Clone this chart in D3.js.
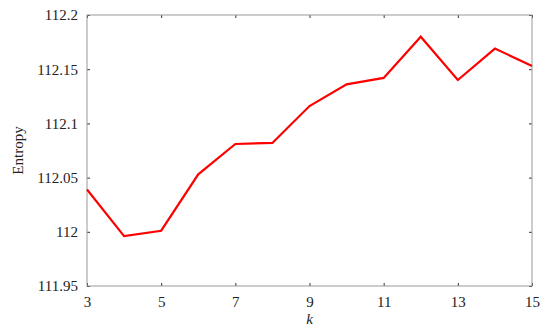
<!DOCTYPE html>
<meta charset="utf-8">
<style>
  body { margin: 0; background: #fff; }
  svg text { font-family: "Liberation Serif", "DejaVu Serif", serif; font-size: 15px; fill: #222; }
  .frame { fill: none; stroke: #999; stroke-width: 1px; }
  .tick line { stroke: #333; }
</style>
<body>
<script src="https://d3js.org/d3.v7.min.js"></script>
<script>
  var kValues = [3, 4, 5, 6, 7, 8, 9, 10, 11, 12, 13, 14, 15];
  var entropy = [112.039, 111.996, 112.001, 112.053, 112.081, 112.082, 112.116,
                 112.136, 112.142, 112.180, 112.140, 112.169, 112.153];
  var xTicks = [3, 5, 7, 9, 11, 13, 15];
  var yTicks = [111.95, 112, 112.05, 112.1, 112.15, 112.2];

  var width = 550, height = 333;
  var margin = {top: 15, right: 18, bottom: 47, left: 87};
  var serif = "'Liberation Serif', 'DejaVu Serif', serif";

  var x = d3.scaleLinear().domain([3, 15]).range([margin.left, width - margin.right]);
  var y = d3.scaleLinear().domain([111.95, 112.2]).range([height - margin.bottom, margin.top]);

  var svg = d3.select("body").append("svg")
      .attr("width", width)
      .attr("height", height);

  // inward ticks on all four sides, box drawn separately
  function tidy(g) {
    g.select(".domain").remove();
    g.attr("font-family", serif).attr("font-size", 15);
  }

  svg.append("g")
      .attr("transform", "translate(0," + y.range()[0] + ")")
      .call(d3.axisBottom(x).tickValues(xTicks).tickSizeInner(-3).tickSizeOuter(0).tickPadding(10))
      .call(tidy);

  svg.append("g")
      .attr("transform", "translate(0," + y.range()[1] + ")")
      .call(d3.axisTop(x).tickValues(xTicks).tickSizeInner(-3).tickSizeOuter(0).tickFormat(""))
      .call(tidy);

  svg.append("g")
      .attr("transform", "translate(" + x.range()[0] + ",0)")
      .call(d3.axisLeft(y).tickValues(yTicks).tickSizeInner(-3).tickSizeOuter(0).tickPadding(9)
            .tickFormat(function(d) { return +d.toFixed(2) + ""; }))
      .call(tidy);

  svg.append("g")
      .attr("transform", "translate(" + x.range()[1] + ",0)")
      .call(d3.axisRight(y).tickValues(yTicks).tickSizeInner(-3).tickSizeOuter(0).tickFormat(""))
      .call(tidy);

  svg.append("rect")
      .attr("class", "frame")
      .attr("x", x.range()[0])
      .attr("y", y.range()[1])
      .attr("width", x.range()[1] - x.range()[0])
      .attr("height", y.range()[0] - y.range()[1]);

  var line = d3.line()
      .x(function(d, i) { return x(kValues[i]); })
      .y(function(d) { return y(d); });

  svg.append("path")
      .datum(entropy)
      .attr("d", line)
      .attr("fill", "none")
      .attr("stroke", "#ff0000")
      .attr("stroke-width", 2.2)
      .attr("stroke-linejoin", "miter");

  svg.append("text")
      .attr("x", (x.range()[0] + x.range()[1]) / 2)
      .attr("y", 324)
      .attr("text-anchor", "middle")
      .style("font-style", "italic")
      .text("k");

  svg.append("text")
      .attr("transform", "translate(23," + (y(112.075)) + ") rotate(-90)")
      .attr("text-anchor", "middle")
      .text("Entropy");
</script>
</body>
